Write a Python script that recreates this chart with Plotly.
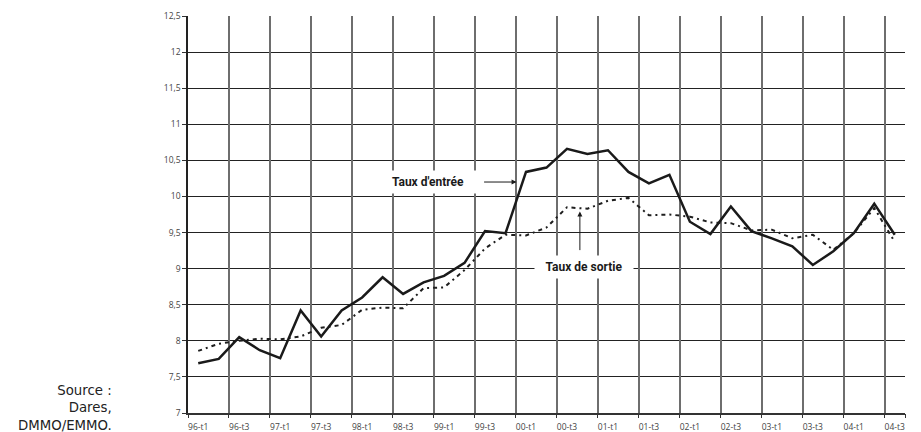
import plotly.graph_objects as go

quarters = ["96-t1", "96-t2", "96-t3", "96-t4", "97-t1", "97-t2", "97-t3", "97-t4",
            "98-t1", "98-t2", "98-t3", "98-t4", "99-t1", "99-t2", "99-t3", "99-t4",
            "00-t1", "00-t2", "00-t3", "00-t4", "01-t1", "01-t2", "01-t3", "01-t4",
            "02-t1", "02-t2", "02-t3", "02-t4", "03-t1", "03-t2", "03-t3", "03-t4",
            "04-t1", "04-t2", "04-t3"]

shown_labels = ["96-t1", "96-t3", "97-t1", "97-t3", "98-t1", "98-t3", "99-t1", "99-t3",
                "00-t1", "00-t3", "01-t1", "01-t3", "02-t1", "02-t3", "03-t1", "03-t3",
                "04-t1", "04-t3"]

taux_entree = [7.69, 7.75, 8.05, 7.87, 7.76, 8.42, 8.06, 8.42, 8.60, 8.88, 8.65, 8.81,
               8.90, 9.08, 9.52, 9.49, 10.34, 10.40, 10.66, 10.59, 10.64, 10.34, 10.18,
               10.30, 9.65, 9.48, 9.86, 9.52, 9.42, 9.31, 9.05, 9.24, 9.49, 9.90, 9.47]

taux_sortie = [7.86, 7.96, 8.00, 8.03, 8.02, 8.06, 8.18, 8.22, 8.43, 8.46, 8.45, 8.73,
               8.74, 8.98, 9.28, 9.47, 9.46, 9.57, 9.85, 9.83, 9.94, 9.98, 9.74, 9.75,
               9.72, 9.64, 9.63, 9.53, 9.54, 9.42, 9.47, 9.26, 9.49, 9.84, 9.37]

# category boundaries every two quarters (for the vertical grid)
n = len(quarters)
boundaries = [i - 0.5 for i in range(0, n + 1, 2)] + [n - 0.5]

fig = go.Figure()

fig.add_trace(go.Scatter(x=[], y=[], xaxis="x2", yaxis="y", showlegend=False,
                         hoverinfo="skip"))

fig.add_trace(go.Scatter(
    x=quarters, y=taux_sortie, mode="lines", name="Taux de sortie",
    line=dict(color="#1e1e1e", width=2, dash="4px,4px,2px,4px"),
    showlegend=False))

fig.add_trace(go.Scatter(
    x=quarters, y=taux_entree, mode="lines", name="Taux d'entrée",
    line=dict(color="#1a1a1a", width=2.5),
    showlegend=False))

tick_font = dict(family="Open Sans, Lato, sans-serif", size=8.5, color="#444")
ann_font = dict(family="Liberation Sans Narrow, Roboto, Lato, sans-serif",
                size=12, color="#1a1a1a")

# the page body adds an 8px offset, so the figure is 8px smaller on each axis
fig.update_layout(
    template="none",
    width=913, height=424,
    margin=dict(l=180, r=16, t=8, b=19, autoexpand=False),
    paper_bgcolor="white", plot_bgcolor="white",
    separators=", ",
    showlegend=False,
    xaxis=dict(
        type="category", range=[-0.5, n - 0.5], automargin=False,
        tickmode="array", tickvals=shown_labels, ticktext=shown_labels,
        showgrid=False, ticks="", showline=True, linecolor="#333", linewidth=1.5,
        tickfont=tick_font, zeroline=False, fixedrange=True,
        ticklabelstandoff=5,
    ),
    xaxis2=dict(
        type="linear", overlaying="x", anchor="y", side="bottom", automargin=False,
        range=[-0.5, n - 0.5], tickmode="array", tickvals=boundaries,
        showticklabels=False, showgrid=True, gridcolor="#6e6e6e", gridwidth=1.5,
        ticks="outside", ticklen=4, tickcolor="#333", tickwidth=1,
        showline=False, zeroline=False,
    ),
    yaxis=dict(
        range=[7, 12.5], tick0=7, dtick=0.5, automargin=False,
        showgrid=True, gridcolor="#222", gridwidth=1.4,
        showline=True, linecolor="#222", linewidth=1.5,
        ticks="outside", ticklen=4, tickcolor="#333",
        tickfont=tick_font, zeroline=False,
    ),
    annotations=[
        dict(text="<b>Taux d'entrée</b>", x=11.2, y=10.2, xref="x2", yref="y",
             showarrow=False, bgcolor="white", width=96, height=20,
             font=ann_font),
        dict(text="", x=15.54, y=10.2, xref="x2", yref="y",
             showarrow=True, ax=-34, ay=0, arrowhead=2, arrowsize=1,
             arrowwidth=1, arrowcolor="#1a1a1a", standoff=0),
        dict(text="<b>Taux de sortie</b>", x=18.85, y=9.02, xref="x2", yref="y",
             showarrow=False, bgcolor="white", width=96, height=20,
             font=ann_font),
        dict(text="", x=18.63, y=9.79, xref="x2", yref="y",
             showarrow=True, ax=0, ay=40, arrowhead=2, arrowsize=1,
             arrowwidth=1, arrowcolor="#1a1a1a", standoff=0),
        dict(text="Source :<br>Dares,<br>DMMO/EMMO.", xref="paper", yref="paper",
             x=-0.103, y=0.012, xanchor="right", yanchor="middle", align="right",
             showarrow=False,
             font=dict(family="DejaVu Sans, sans-serif", size=13.3, color="#222")),
    ],
)

fig.write_html("out.html")
